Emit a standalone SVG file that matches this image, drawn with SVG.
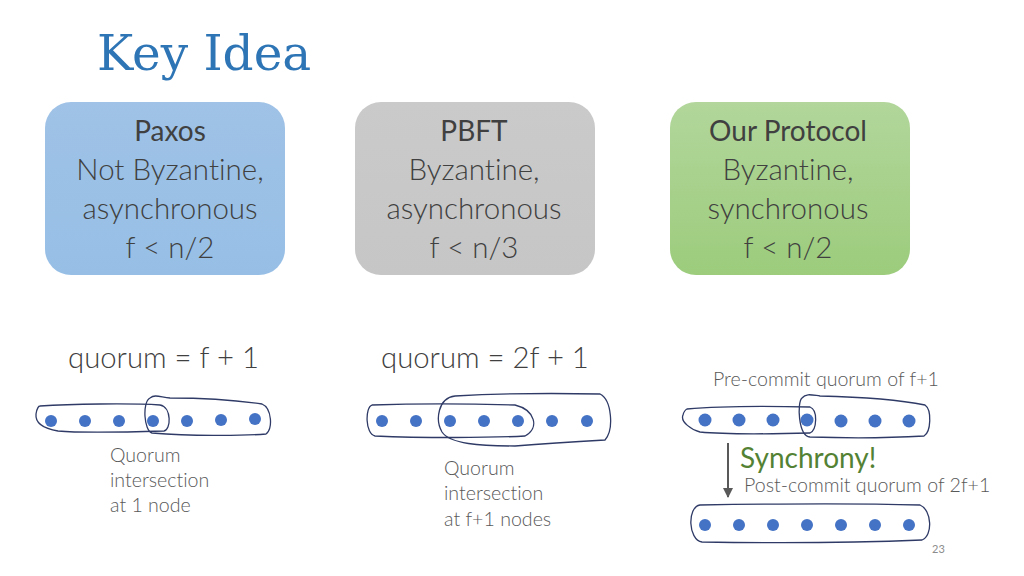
<svg xmlns="http://www.w3.org/2000/svg" width="1024" height="576" viewBox="0 0 1024 576">
<defs>
<linearGradient id="gBlue" x1="0" y1="0" x2="0" y2="1"><stop offset="0" stop-color="#9FC2E6"/><stop offset="1" stop-color="#97BFE6"/></linearGradient>
<linearGradient id="gGrey" x1="0" y1="0" x2="0" y2="1"><stop offset="0" stop-color="#CACACA"/><stop offset="1" stop-color="#C6C6C6"/></linearGradient>
<linearGradient id="gGreen" x1="0" y1="0" x2="0" y2="1"><stop offset="0" stop-color="#B2D69B"/><stop offset="1" stop-color="#9CCC7C"/></linearGradient>
<marker id="arr" viewBox="0 0 10 10" refX="9" refY="5" markerWidth="5" markerHeight="5" orient="auto"><path d="M0,0 L10,5 L0,10 z" fill="#595959"/></marker>
</defs>
<style>
text{font-variant-ligatures:none}
.t{font-family:Lato,"Open Sans",sans-serif;font-weight:300;fill:#404040}
.box{font-size:29.5px;text-anchor:middle}
.h{font-weight:400;font-size:28px}
.q{font-size:29.3px}
.s{font-size:19.6px;fill:#595959}
.d{fill:#4472C4}
.l{fill:none;stroke:#2F3B66;stroke-width:1.3}
</style>
<rect width="1024" height="576" fill="#FFFFFF"/>
<text x="97" y="70" font-family="DejaVu Serif,serif" font-size="48.5" fill="#2E75B6">Key Idea</text>

<g id="paxos">
<rect x="45" y="102" width="240" height="173" rx="26" fill="url(#gBlue)"/>
<text class="t box" x="170" y="141"><tspan class="h">Paxos</tspan><tspan x="170" dy="39">Not Byzantine,</tspan><tspan x="170" dy="39">asynchronous</tspan><tspan x="170" dy="39">f &lt; n/2</tspan></text>
</g>
<g id="pbft">
<rect x="355" y="102" width="240" height="173" rx="26" fill="url(#gGrey)"/>
<text class="t box" x="474" y="141"><tspan class="h">PBFT</tspan><tspan x="474" dy="39">Byzantine,</tspan><tspan x="474" dy="39">asynchronous</tspan><tspan x="474" dy="39">f &lt; n/3</tspan></text>
</g>
<g id="ours">
<rect x="670" y="102" width="240" height="173" rx="26" fill="url(#gGreen)"/>
<text class="t box" x="788" y="141"><tspan class="h">Our Protocol</tspan><tspan x="788" dy="39">Byzantine,</tspan><tspan x="788" dy="39">synchronous</tspan><tspan x="788" dy="39">f &lt; n/2</tspan></text>
</g>

<text class="t q" x="68" y="368">quorum = f + 1</text>
<text class="t q" x="381" y="368">quorum = 2f + 1</text>
<text class="t s" x="713" y="386">Pre-commit quorum of f+1</text>

<g id="row1">
<circle class="d" cx="51" cy="421" r="6"/><circle class="d" cx="85" cy="421" r="6"/><circle class="d" cx="119" cy="421" r="6"/><circle class="d" cx="153" cy="421" r="6"/><circle class="d" cx="187" cy="421" r="6"/><circle class="d" cx="221" cy="420" r="6"/><circle class="d" cx="255" cy="419" r="6"/>
<path class="l" d="M40,406 C70,404 130,403 160,405 C172,407 171,430 164,431 C130,432 80,433 58,431 C46,429 35,424 36,414 C37,408 39,406 40,406 Z"/>
<path class="l" d="M150,398 C155,394 160,397 170,398 C200,398 235,400 262,404 C272,408 273,430 266,434 C240,436 190,436 152,433 C144,431 142,402 150,398 Z"/>
<text class="t s" x="110" y="462">Quorum</text>
<text class="t s" x="110" y="487">intersection</text>
<text class="t s" x="110" y="512">at 1 node</text>
</g>

<g id="row2">
<circle class="d" cx="382" cy="421" r="6"/><circle class="d" cx="416" cy="421" r="6"/><circle class="d" cx="450" cy="421" r="6"/><circle class="d" cx="484" cy="421" r="6"/><circle class="d" cx="518" cy="421" r="6"/><circle class="d" cx="552" cy="421" r="6"/><circle class="d" cx="587" cy="421" r="6"/>
<path class="l" d="M372,405 C400,404 450,403 515,405 C535,410 540,428 525,436 C490,438 420,438 375,436 C365,434 365,407 372,405 Z"/>
<path class="l" d="M455,396 C490,394 550,393 600,394 C612,400 614,430 605,440 C570,442 540,444 515,446 C480,446 450,444 442,432 C435,420 438,398 455,396 Z"/>
<text class="t s" x="444" y="475">Quorum</text>
<text class="t s" x="444" y="500">intersection</text>
<text class="t s" x="444" y="526">at f+1 nodes</text>
</g>

<g id="row3">
<circle class="d" cx="705" cy="420" r="6.5"/><circle class="d" cx="739" cy="420" r="6.5"/><circle class="d" cx="773" cy="420" r="6.5"/><circle class="d" cx="807" cy="420" r="6.5"/><circle class="d" cx="841" cy="421" r="6.5"/><circle class="d" cx="875" cy="421" r="6.5"/><circle class="d" cx="909" cy="421" r="6.5"/>
<path class="l" d="M687,409 C720,406 770,406 810,407 C818,410 817,430 810,433 C770,434 730,435 700,432 C692,430 680,422 683,415 C684,411 685,410 687,409 Z"/>
<path class="l" d="M802,398 C806,393 812,395 820,396 C860,397 900,400 925,405 C932,410 931,432 924,436 C890,438 840,438 810,437 C798,436 797,402 802,398 Z"/>
</g>

<g id="connectors">
<line x1="728" y1="443" x2="728" y2="497" stroke="#595959" stroke-width="2" marker-end="url(#arr)"/>
</g>

<text x="740" y="468" font-family="Lato,'Open Sans',sans-serif" font-weight="400" font-size="28" fill="#548235">Synchrony!</text>
<text class="t s" x="744" y="492">Post-commit quorum of 2f+1</text>

<g id="row4">
<circle class="d" cx="705" cy="525" r="6"/><circle class="d" cx="739" cy="525" r="6"/><circle class="d" cx="773" cy="525" r="6"/><circle class="d" cx="807" cy="525" r="6"/><circle class="d" cx="841" cy="525" r="6"/><circle class="d" cx="875" cy="525" r="6"/><circle class="d" cx="909" cy="525" r="6"/>
<path class="l" d="M700,505 C760,504 850,503 920,505 C932,510 933,536 922,540 C850,543 760,543 702,542 C688,540 687,507 700,505 Z"/>
</g>

<text x="932" y="553" font-family="Lato,sans-serif" font-size="11" fill="#8C8C8C">23</text>
</svg>
